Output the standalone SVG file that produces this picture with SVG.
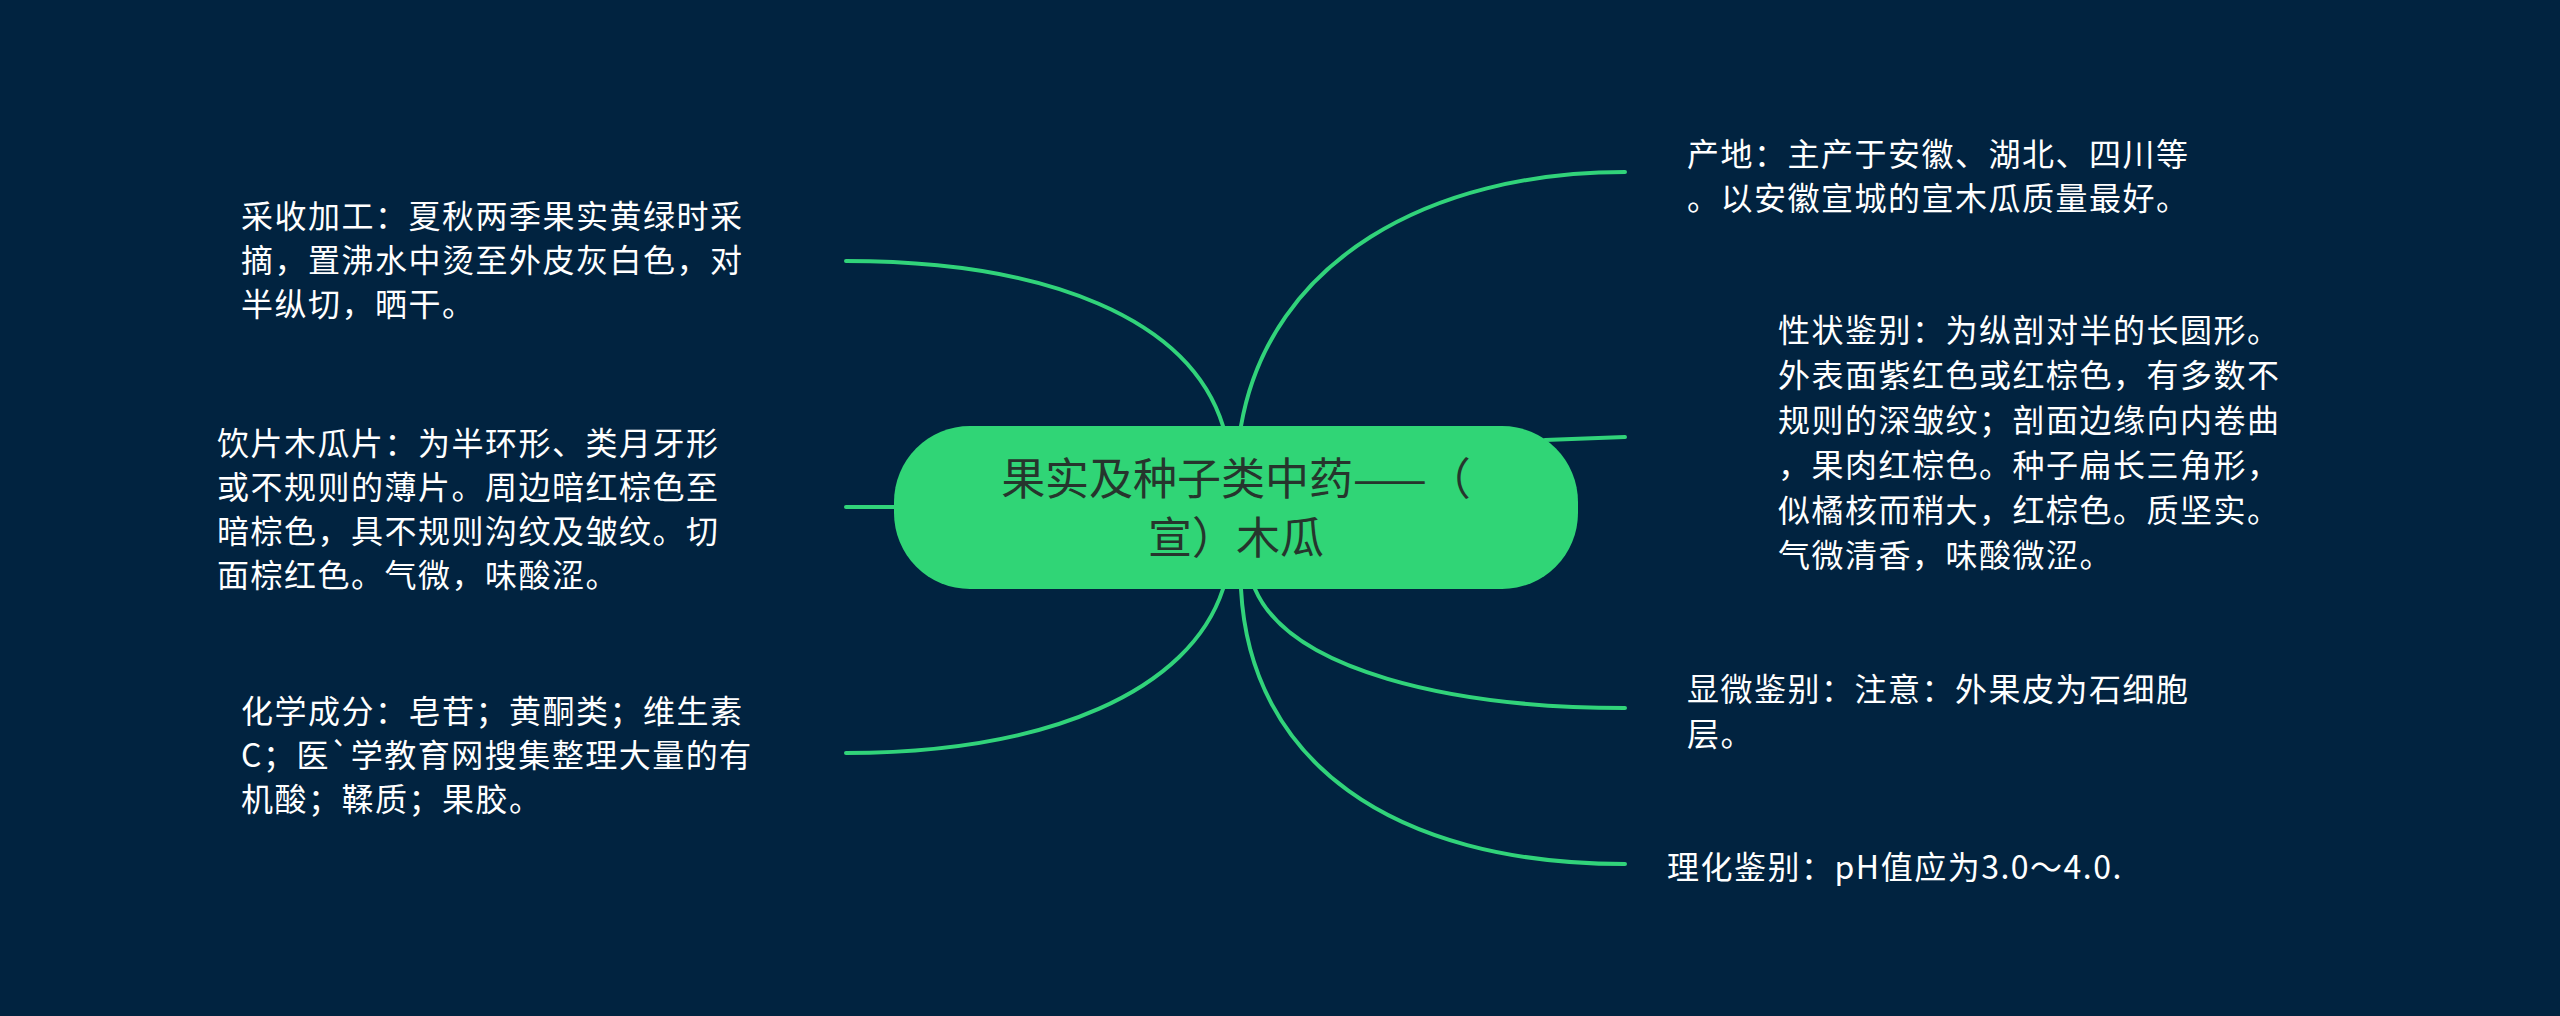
<svg xmlns="http://www.w3.org/2000/svg" width="2560" height="1016" viewBox="0 0 2560 1016">
<style>
.bg{fill:#012340}
.link{fill:none;stroke:#31d37a;stroke-width:4;stroke-linecap:round}
.root rect{fill:#30d576}
.root text{font-family:"Noto Sans CJK SC",sans-serif;font-size:44px;fill:#26352d;text-anchor:middle}
.leaf text{font-family:"Noto Sans CJK SC",sans-serif;font-size:32px;letter-spacing:1.5px;fill:#ffffff}
</style>
<rect class="bg" x="0" y="0" width="2560" height="1016"/>
<g id="connectors">
<path class="link" d="M1223,426 C1190,320 1050,261 846,261"/>
<path class="link" d="M894,507 L846,507"/>
<path class="link" d="M1223,589 C1190,690 1050,753 846,753"/>
<path class="link" d="M1241,426 C1270,260 1430,172 1625,172"/>
<path class="link" d="M1545,440 L1625,437"/>
<path class="link" d="M1255,589 C1290,670 1450,708 1625,708"/>
<path class="link" d="M1241,589 C1250,760 1390,864 1625,864"/>
</g>
<g id="root" class="root">
<rect x="894" y="426" width="684" height="163" rx="76" ry="76"/>
<text x="1236" y="495">果实及种子类中药——（</text>
<text x="1236" y="554">宣）木瓜</text>
</g>
<g id="node-caishou" class="leaf">
<text x="241" y="228">采收加工：夏秋两季果实黄绿时采</text>
<text x="241" y="272">摘，置沸水中烫至外皮灰白色，对</text>
<text x="241" y="316">半纵切，晒干。</text>
</g>
<g id="node-yinpian" class="leaf">
<text x="217" y="455">饮片木瓜片：为半环形、类月牙形</text>
<text x="217" y="499">或不规则的薄片。周边暗红棕色至</text>
<text x="217" y="543">暗棕色，具不规则沟纹及皱纹。切</text>
<text x="217" y="587">面棕红色。气微，味酸涩。</text>
</g>
<g id="node-huaxue" class="leaf">
<text x="241" y="723">化学成分：皂苷；黄酮类；维生素</text>
<text x="241" y="767">C；医`学教育网搜集整理大量的有</text>
<text x="241" y="811">机酸；鞣质；果胶。</text>
</g>
<g id="node-chandi" class="leaf">
<text x="1687" y="166">产地：主产于安徽、湖北、四川等</text>
<text x="1687" y="210">。以安徽宣城的宣木瓜质量最好。</text>
</g>
<g id="node-xingzhuang" class="leaf">
<text x="1778" y="342">性状鉴别：为纵剖对半的长圆形。</text>
<text x="1778" y="387">外表面紫红色或红棕色，有多数不</text>
<text x="1778" y="432">规则的深皱纹；剖面边缘向内卷曲</text>
<text x="1778" y="477">，果肉红棕色。种子扁长三角形，</text>
<text x="1778" y="522">似橘核而稍大，红棕色。质坚实。</text>
<text x="1778" y="567">气微清香，味酸微涩。</text>
</g>
<g id="node-xianwei" class="leaf">
<text x="1687" y="701">显微鉴别：注意：外果皮为石细胞</text>
<text x="1687" y="746">层。</text>
</g>
<g id="node-lihua" class="leaf">
<text x="1667" y="879">理化鉴别：pH值应为3.0～4.0.</text>
</g>
</svg>
